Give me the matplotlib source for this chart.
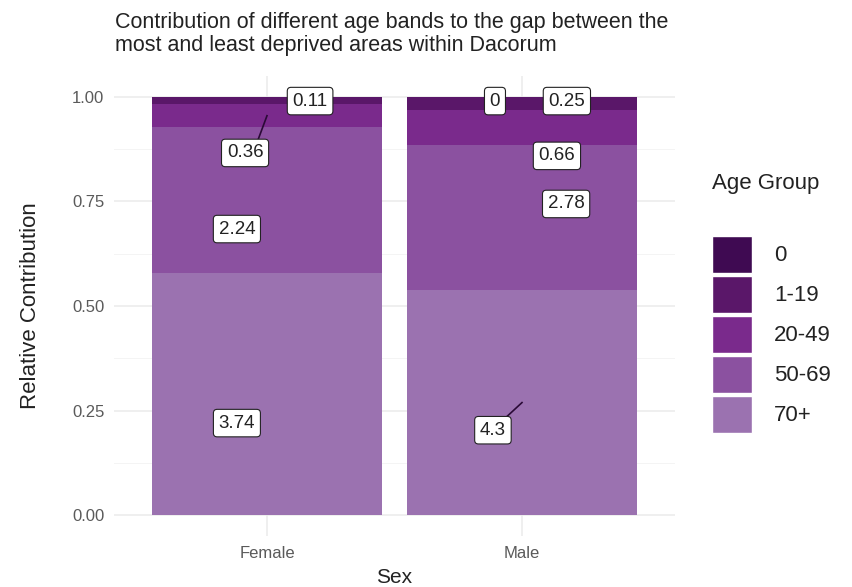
import matplotlib.pyplot as plt
import numpy as np
from matplotlib.patches import Patch

plt.rcParams['font.family'] = ['Liberation Sans', 'DejaVu Sans']

sexes = ['Female', 'Male']
age_groups = ['0', '1-19', '20-49', '50-69', '70+']
# contribution (years) per age group, same order as age_groups
female = [0.0, 0.11, 0.36, 2.24, 3.74]
male = [0.0, 0.25, 0.66, 2.78, 4.3]
colors = ['#3f0a52', '#5a1769', '#7a2a8c', '#8b51a0', '#9b72b0']

# label placement (offset from bar centre, label y, draw segment), None = not shown
female_lab = [None, (0.169, 0.990, False), (-0.086, 0.866, True), (-0.118, 0.684, False), (-0.118, 0.220, False)]
male_lab = [(-0.106, 0.990, False), (0.176, 0.990, False), (0.137, 0.859, False), (0.173, 0.744, False), (-0.114, 0.203, True)]

fig = plt.figure(figsize=(8.53, 5.87), dpi=100)
ax = fig.add_axes([114/853, 1-536/587, (675-114)/853, (536-76)/587])

xs = np.arange(1, len(sexes)+1)
data = [female, male]
labs = [female_lab, male_lab]
for xi, vals, lab in zip(xs, data, labs):
    vals = np.array(vals)
    props = vals / vals.sum()
    bottom = 0.0
    # stack from oldest (bottom) to youngest (top)
    for i in range(len(age_groups)-1, -1, -1):
        ax.bar(xi, props[i], bottom=bottom, width=0.9, color=colors[i], zorder=2)
        mid = bottom + props[i]/2
        if lab[i] is not None:
            dx, ly, seg = lab[i]
            lx = xi + dx
            if seg:
                ex = lx + (0.05 if dx < 0 else -0.05)
                ey = ly + (0.03 if ly < mid else -0.03)
                ax.plot([xi, ex], [mid, ey], color='#2a0a36', lw=1.2, zorder=3)
            ax.text(lx, ly, f'{vals[i]:g}', ha='center', va='center', fontsize=13.5, color='#222222',
                    zorder=4,
                    bbox=dict(boxstyle='round,pad=0.28,rounding_size=0.2', fc='white', ec='#222222', lw=0.8))
        bottom += props[i]

ax.set_xlim(0.4, 2.6)
ax.set_ylim(-0.05, 1.05)
ax.set_xticks(xs)
ax.set_xticklabels(sexes)
ax.set_yticks([0, 0.25, 0.5, 0.75, 1.0])
ax.set_yticklabels(['0.00', '0.25', '0.50', '0.75', '1.00'])
ax.set_yticks([0.125, 0.375, 0.625, 0.875], minor=True)
ax.grid(True, which='major', color='#ebebeb', lw=1.1, zorder=0)
ax.grid(True, which='minor', axis='y', color='#f2f2f2', lw=0.6, zorder=0)
ax.tick_params(which='both', length=0, labelsize=12, labelcolor='#5a5a5a', pad=7)
for s in ax.spines.values():
    s.set_visible(False)
ax.set_xlabel('Sex', fontsize=15, color='#222222', labelpad=5)
ax.set_ylabel('Relative Contribution', fontsize=16, color='#222222', labelpad=22)

fig.text(115/853, 1-34/587,
         'Contribution of different age bands to the gap between the\nmost and least deprived areas within Dacorum',
         fontsize=15.5, color='#222222', va='center', ha='left', linespacing=1.1)

handles = [Patch(facecolor=c, edgecolor='white') for c in colors]
leg = fig.legend(handles, age_groups, title='Age Group', loc='upper left',
                 bbox_to_anchor=(712/853, 1-173/587), frameon=False, fontsize=16,
                 title_fontsize=16, handlelength=1.8, handleheight=2.18, labelspacing=0.14,
                 handletextpad=1.0, borderaxespad=0, borderpad=0)
leg._legend_box.align = 'left'
leg._legend_box.sep = 30
leg.get_title().set_color('#222222')
for t in leg.get_texts():
    t.set_color('#222222')

fig.savefig('out.png', dpi=100)
